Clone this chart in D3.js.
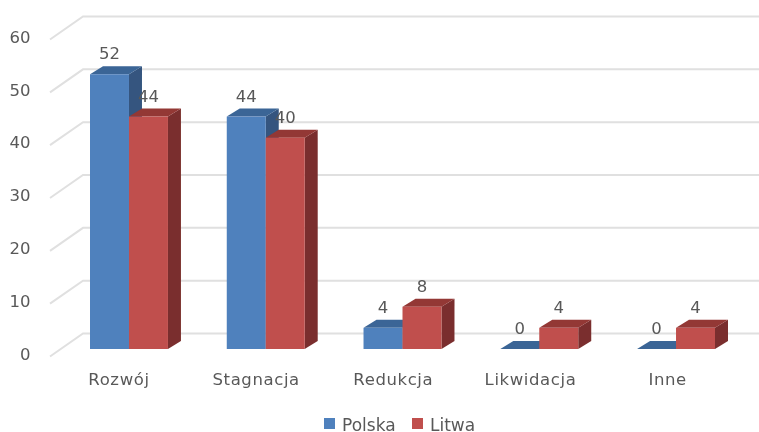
<!DOCTYPE html>
<html lang="pl">
<head>
<meta charset="UTF-8">
<title>Polska / Litwa</title>
<script src="https://d3js.org/d3.v7.min.js"></script>
<style>
    html, body { margin: 0; padding: 0; background: #fff; }
    svg { display: block; }
    text { font-family: "DejaVu Sans", sans-serif; fill: #595959; }
</style>
</head>
<body>
<svg></svg>
<script>
const categories = ["Rozwój", "Stagnacja", "Redukcja", "Likwidacja", "Inne"];
const seriesNames = ["Polska", "Litwa"];
const polska = [52, 44, 4, 0, 0];
const litwa = [44, 40, 8, 4, 4];
const yTicks = [0, 10, 20, 30, 40, 50, 60];

const w = 759, h = 432;
const frontColor = ["#4f81bd", "#c0504d"];
const topColor = ["#3b6596", "#933735"];
const sideColor = ["#34557f", "#7a2f2e"];

// wall depth and bar depth of the fake 3D
const wallDx = 33, wallDy = 23;
const barDx = 13, barDy = 8;

const svg = d3.select("svg").attr("width", w).attr("height", h);

const defs = svg.append("defs");
defs.append("filter").attr("id", "soft")
    .attr("filterUnits", "userSpaceOnUse")
    .attr("x", 0).attr("y", 0).attr("width", w).attr("height", h)
    .append("feGaussianBlur").attr("stdDeviation", 0.5);

const root = svg.append("g").attr("filter", "url(#soft)");

const y = d3.scaleLinear().domain([0, 60]).range([349, 32]);
const x = d3.scaleBand().domain(categories).range([60.6, 744.4])
    .paddingInner(0.43).paddingOuter(0.215);
const x1 = d3.scaleBand().domain(seriesNames).range([0, x.bandwidth()]);

// gridlines: slanted piece on the side wall, then along the back wall
root.append("g").selectAll("path").data(yTicks).enter().append("path")
    .attr("fill", "none")
    .attr("stroke", "#e0e0e0")
    .attr("stroke-width", 2)
    .attr("d", d => {
        const yy = y(d) + 7.5;
        return `M50,${yy}L${50 + wallDx},${yy - wallDy}L759,${yy - wallDy}`;
    });

const yAxis = d3.axisLeft(y).tickValues(yTicks).tickSize(0).tickPadding(0);
const yG = root.append("g").attr("transform", "translate(30.5,5)").call(yAxis);
yG.select(".domain").remove();
yG.selectAll("text").attr("font-size", 16.5).attr("dy", "0.32em")
    .style("font-family", "\"DejaVu Sans\", sans-serif").style("fill", "#595959");

const xAxis = d3.axisBottom(x).tickSize(0).tickPadding(0);
const xG = root.append("g").attr("transform", "translate(-10,370)").call(xAxis);
xG.select(".domain").remove();
xG.selectAll("text").attr("font-size", 16.5).attr("dy", "0.9em")
    .style("letter-spacing", "0.6px")
    .style("font-family", "\"DejaVu Sans\", sans-serif").style("fill", "#595959");
xG.selectAll(".tick").attr("transform", (c, i) =>
    `translate(${x(c) + x.bandwidth() / 2 + i * 0.4},0)`);

const series = [polska, litwa];
const groups = root.selectAll(".cat").data(categories).enter().append("g")
    .attr("class", "cat")
    .attr("transform", c => `translate(${x(c)},0)`);

seriesNames.forEach((name, s) => {
    const bw = x1.bandwidth();
    const bx = x1(name);
    const val = (c, i) => series[s][i];

    groups.append("path") // side
        .attr("fill", sideColor[s])
        .attr("d", (c, i) => {
            const t = y(val(c, i)), b = y(0), r = bx + bw;
            return `M${r},${t}L${r + barDx},${t - barDy}L${r + barDx},${b - barDy}L${r},${b}Z`;
        });
    groups.append("path") // top
        .attr("fill", topColor[s])
        .attr("d", (c, i) => {
            const t = y(val(c, i));
            return `M${bx},${t}L${bx + barDx},${t - barDy}L${bx + bw + barDx},${t - barDy}L${bx + bw},${t}Z`;
        });
    groups.append("rect") // front
        .attr("fill", frontColor[s])
        .attr("x", bx)
        .attr("width", bw)
        .attr("y", (c, i) => y(val(c, i)))
        .attr("height", (c, i) => y(0) - y(val(c, i)));
});

// value labels go on top of all bars
seriesNames.forEach((name, s) => {
    groups.append("text")
        .attr("x", x1(name) + x1.bandwidth() / 2)
        .attr("y", (c, i) => y(series[s][i]) - 15)
        .attr("text-anchor", "middle")
        .attr("font-size", 16.5)
        .text((c, i) => series[s][i]);
});

// legend
const legendX = [324, 412];
const legend = root.selectAll(".leg").data(seriesNames).enter().append("g")
    .attr("class", "leg")
    .attr("transform", (d, i) => `translate(${legendX[i]},418)`);
legend.append("rect").attr("width", 11).attr("height", 11)
    .attr("fill", (d, i) => frontColor[i]);
legend.append("text").attr("x", 18).attr("y", 12.5)
    .attr("font-size", 17)
    .text(d => d);
</script>
</body>
</html>
